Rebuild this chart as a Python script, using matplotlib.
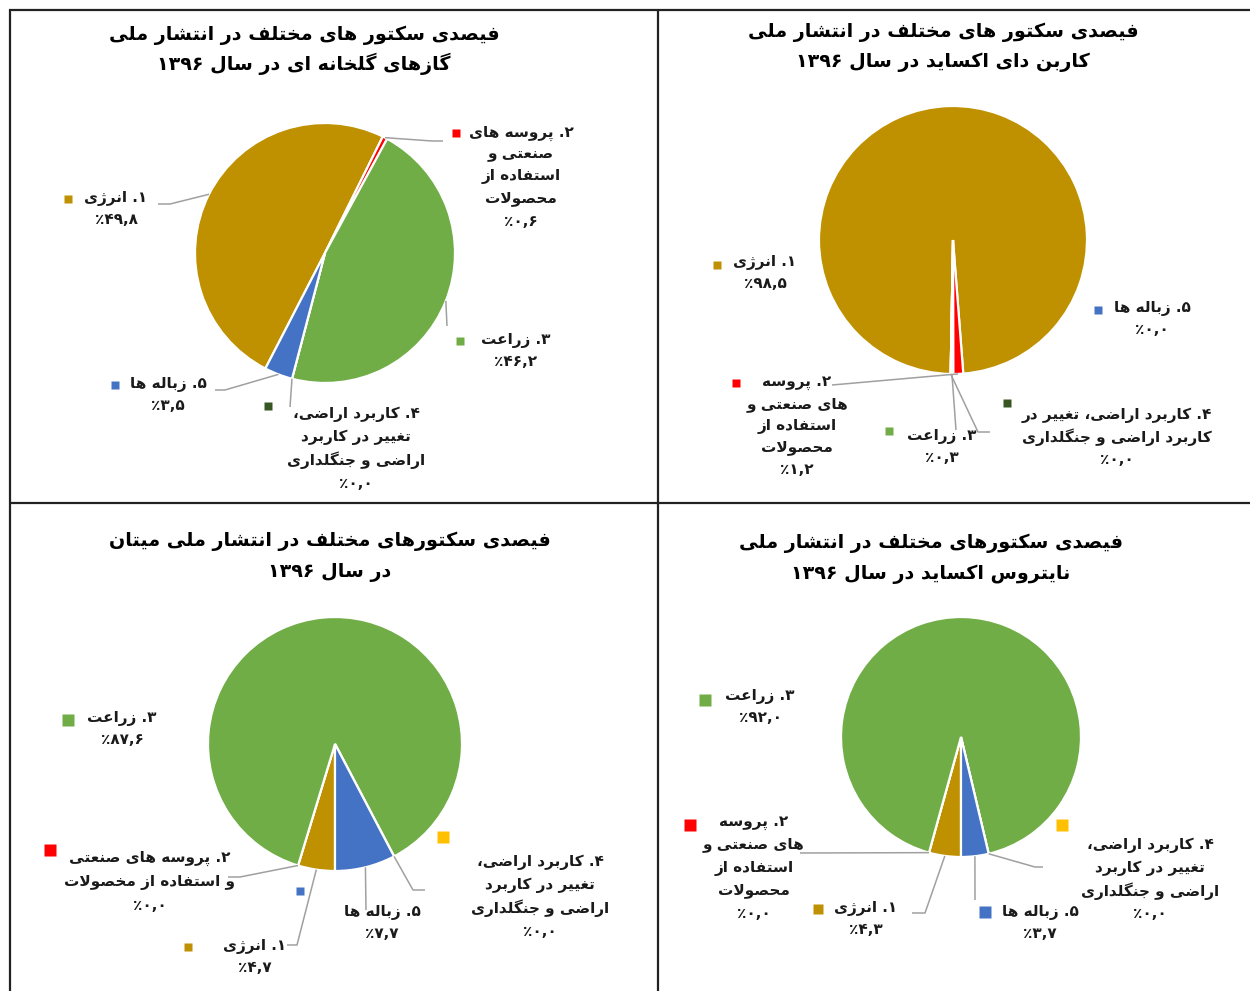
import re
import math
import matplotlib
matplotlib.use("Agg")
import matplotlib.pyplot as plt

# ------------------------------------------------------------------ data
sector_names = [
    "۱. انرژی",
    "۲. پروسه های صنعتی و استفاده از محصولات",
    "۳. زراعت",
    "۴. کاربرد اراضی، تغییر در کاربرد اراضی و جنگلداری",
    "۵. زباله ها",
]
sector_names_ch4 = [
    "۱. انرژی",
    "۲. پروسه های صنعتی و استفاده از مخصولات",
    "۳. زراعت",
    "۴. کاربرد اراضی، تغییر در کاربرد اراضی و جنگلداری",
    "۵. زباله ها",
]
ghg_share = [49.8, 0.6, 46.2, 0.0, 3.5]
co2_share = [98.5, 1.2, 0.3, 0.0, 0.0]
ch4_share = [4.7, 0.0, 87.6, 0.0, 7.7]
n2o_share = [4.3, 0.0, 92.0, 0.0, 3.7]

title_ghg = ["فیصدی سکتور های مختلف در انتشار ملی", "گازهای گلخانه ای در سال ۱۳۹۶"]
title_co2 = ["فیصدی سکتور های مختلف در انتشار ملی", "کاربن دای اکساید در سال ۱۳۹۶"]
title_ch4 = ["فیصدی سکتورهای مختلف در انتشار ملی میتان", "در سال ۱۳۹۶"]
title_n2o = ["فیصدی سکتورهای مختلف در انتشار ملی", "نایتروس اکساید در سال ۱۳۹۶"]

# ------------------------------------------------------------------ Persian shaping (no external libs)
_F = {
    'ا': 'FE8D FE8E', 'آ': 'FE81 FE82', 'أ': 'FE83 FE84', 'إ': 'FE87 FE88', 'ؤ': 'FE85 FE86',
    'د': 'FEA9 FEAA', 'ذ': 'FEAB FEAC', 'ر': 'FEAD FEAE', 'ز': 'FEAF FEB0', 'ژ': 'FB8A FB8B',
    'و': 'FEED FEEE',
    'ب': 'FE8F FE90 FE91 FE92', 'پ': 'FB56 FB57 FB58 FB59', 'ت': 'FE95 FE96 FE97 FE98',
    'ث': 'FE99 FE9A FE9B FE9C', 'ج': 'FE9D FE9E FE9F FEA0', 'چ': 'FB7A FB7B FB7C FB7D',
    'ح': 'FEA1 FEA2 FEA3 FEA4', 'خ': 'FEA5 FEA6 FEA7 FEA8', 'س': 'FEB1 FEB2 FEB3 FEB4',
    'ش': 'FEB5 FEB6 FEB7 FEB8', 'ص': 'FEB9 FEBA FEBB FEBC', 'ض': 'FEBD FEBE FEBF FEC0',
    'ط': 'FEC1 FEC2 FEC3 FEC4', 'ظ': 'FEC5 FEC6 FEC7 FEC8', 'ع': 'FEC9 FECA FECB FECC',
    'غ': 'FECD FECE FECF FED0', 'ف': 'FED1 FED2 FED3 FED4', 'ق': 'FED5 FED6 FED7 FED8',
    'ک': 'FB8E FB8F FB90 FB91', 'گ': 'FB92 FB93 FB94 FB95', 'ل': 'FEDD FEDE FEDF FEE0',
    'م': 'FEE1 FEE2 FEE3 FEE4', 'ن': 'FEE5 FEE6 FEE7 FEE8', 'ه': 'FEE9 FEEA FEEB FEEC',
    'ی': 'FBFC FBFD FBFE FBFF', 'ي': 'FEF1 FEF2 FEF3 FEF4', 'ئ': 'FE89 FE8A FE8B FE8C',
}
FORMS = {k: [chr(int(h, 16)) for h in v.split()] for k, v in _F.items()}


def _shape(s):
    out, i, n, prev = [], 0, len(s), False
    while i < n:
        c = s[i]
        if c not in FORMS:
            out.append(c)
            prev = False
            i += 1
            continue
        nxt = s[i + 1] if i + 1 < n else ''
        if c == 'ل' and nxt in ('ا', 'آ'):
            lig = ('\uFEFB', '\uFEFC') if nxt == 'ا' else ('\uFEF5', '\uFEF6')
            out.append(lig[1] if prev else lig[0])
            prev = False
            i += 2
            continue
        f = FORMS[c]
        jn = len(f) == 4 and nxt in FORMS
        if prev and jn:
            g = f[3]
        elif prev:
            g = f[1]
        elif jn:
            g = f[2]
        else:
            g = f[0]
        out.append(g)
        prev = jn
        i += 1
    return ''.join(out)


_NUM = re.compile(r'[0-9\u06F0-\u06F9]+(?:[,\u066B][0-9\u06F0-\u06F9]+)*')


def fa(s):
    sh = _shape(s)
    toks, pos = [], 0
    for m in _NUM.finditer(sh):
        toks.extend(list(sh[pos:m.start()]))
        toks.append(m.group())
        pos = m.end()
    toks.extend(list(sh[pos:]))
    return ''.join(reversed(toks))


_DIG = str.maketrans('0123456789', '۰۱۲۳۴۵۶۷۸۹')


def fa_pct(v):
    return f"{v:.1f}".replace('.', ',').translate(_DIG) + '٪'


def split_words(text, counts):
    w = text.split(' ')
    lines, k = [], 0
    for c in counts:
        lines.append(' '.join(w[k:k + c]))
        k += c
    return lines


# ------------------------------------------------------------------ figure
W, H = 1250, 991
FONT = 'DejaVu Sans'
fig = plt.figure(figsize=(W / 100, H / 100), dpi=100)
ax = fig.add_axes([0, 0, 1, 1])

colors_a = ['#BF9000', '#FF0000', '#70AD47', '#375623', '#4472C4']
colors_b = ['#BF9000', '#FF0000', '#70AD47', '#FFC000', '#4472C4']
LEAD = '#A0A0A0'


def Y(y):
    return H - y


charts = [
    dict(vals=ghg_share, names=sector_names, title=title_ghg, colors=colors_a,
         c=(325, 253), r=130, a=207.3, tx=304, ty=(35, 64),
         labels=[
             dict(split=[2], x=116, y=199, dy=21, m=(68, 199), ms=5.5, lead=[(170, 204), (158, 204)]),
             dict(split=[3, 2, 2, 1], x=521, y=133, dy=22, m=(456, 133), ms=5.5, lead=[(432, 141), (443, 141)]),
             dict(split=[2], x=516, y=340, dy=21, m=(460, 341), ms=5.5, lead=[(447, 326)]),
             dict(split=[3, 3, 3], x=356, y=414, dy=23, m=(268, 406), ms=5.5, lead=[(290, 407)]),
             dict(split=[3], x=168, y=384, dy=21, m=(115, 385), ms=5.5, lead=[(225, 390), (215, 390)]),
         ]),
    dict(vals=co2_share, names=sector_names, title=title_co2, colors=colors_a,
         c=(953, 240), r=134, a=181.0, tx=943, ty=(32, 62),
         labels=[
             dict(split=[2], x=765, y=263, dy=21, m=(717, 265), ms=5.5, lead=None),
             dict(split=[2, 3, 2, 1], x=797, y=383, dy=21.5, m=(736, 383), ms=5.5, lead=[(832, 385)]),
             dict(split=[2], x=942, y=437, dy=21, m=(889, 431), ms=5.5, lead=[(956, 430)]),
             dict(split=[5, 4], x=1117, y=415, dy=22, m=(1007, 403), ms=5.5, lead=[(978, 432), (990, 432)]),
             dict(split=[3], x=1152, y=309, dy=21, m=(1098, 310), ms=5.5, lead=None),
         ]),
    dict(vals=ch4_share, names=sector_names_ch4, title=title_ch4, colors=colors_b,
         c=(335, 744), r=127, a=180.0, tx=330, ty=(541, 573),
         labels=[
             dict(split=[2], x=255, y=946, dy=22, m=(188, 947), ms=6, lead=[(297, 945), (287, 945)]),
             dict(split=[4, 4], x=150, y=858, dy=24, m=(50, 850), ms=9, lead=[(240, 877), (228, 877)]),
             dict(split=[2], x=122, y=718, dy=22, m=(68, 720), ms=9, lead=None),
             dict(split=[3, 3, 3], x=540, y=862, dy=23, m=(443, 837), ms=9, lead=[(413, 890), (425, 890)]),
             dict(split=[3], x=382, y=912, dy=22, m=(300, 891), ms=6, lead=[(366, 910)]),
         ]),
    dict(vals=n2o_share, names=sector_names, title=title_n2o, colors=colors_b,
         c=(961, 737), r=120, a=180.0, tx=931, ty=(543, 574),
         labels=[
             dict(split=[2], x=866, y=908, dy=22, m=(818, 909), ms=6.5, lead=[(925, 913), (912, 913)]),
             dict(split=[2, 3, 2, 1], x=754, y=822, dy=23, m=(690, 825), ms=9, lead=[(800, 853)]),
             dict(split=[2], x=760, y=697, dy=21, m=(705, 700), ms=9, lead=None),
             dict(split=[3, 3, 3], x=1150, y=845, dy=23, m=(1062, 825), ms=9, lead=[(1035, 867), (1043, 867)]),
             dict(split=[3], x=1040, y=912, dy=22, m=(985, 912), ms=9, lead=[(975, 900)]),
         ]),
]

for ch in charts:
    cx, cy = ch['c']
    wedges, _ = ax.pie(ch['vals'], colors=ch['colors'], startangle=90 - ch['a'],
                       counterclock=False, center=(cx, Y(cy)), radius=ch['r'],
                       wedgeprops=dict(edgecolor='white', linewidth=1.6))
    # titles
    for line, ty in zip(ch['title'], ch['ty']):
        ax.text(ch['tx'], Y(ty), fa(line), ha='center', va='center',
                fontsize=13.8, fontweight='bold', family=FONT, color='black')
    # labels
    for i, lab in enumerate(ch['labels']):
        lines = split_words(ch['names'][i], lab['split']) + [fa_pct(ch['vals'][i])]
        for k, ln in enumerate(lines):
            ax.text(lab['x'], Y(lab['y'] + k * lab['dy']), fa(ln), ha='center', va='center',
                    fontsize=11, fontweight='bold', family=FONT, color='#1a1a1a')
        mx, my = lab['m']
        ax.plot([mx], [Y(my)], marker='s', ms=lab['ms'], color=ch['colors'][i], mec='none')
        if lab['lead']:
            w = wedges[i]
            th = math.radians((w.theta1 + w.theta2) / 2)
            px = cx + ch['r'] * math.cos(th)
            py = Y(cy) + ch['r'] * math.sin(th)
            xs = [px] + [p[0] for p in lab['lead']]
            ys = [py] + [Y(p[1]) for p in lab['lead']]
            ax.plot(xs, ys, color=LEAD, lw=1.1, solid_capstyle='butt')

# frame lines
kw = dict(color='#222222', lw=1.6, solid_capstyle='butt')
ax.plot([9, W], [Y(9.5), Y(9.5)], **kw)
ax.plot([10, 10], [Y(9), 0], **kw)
ax.plot([658, 658], [Y(9), 0], **kw)
ax.plot([10, W], [Y(503), Y(503)], **kw)

ax.set_xlim(0, W)
ax.set_ylim(0, H)
ax.set_aspect('auto')
ax.axis('off')
fig.savefig('out.png', dpi=100, facecolor='white')
